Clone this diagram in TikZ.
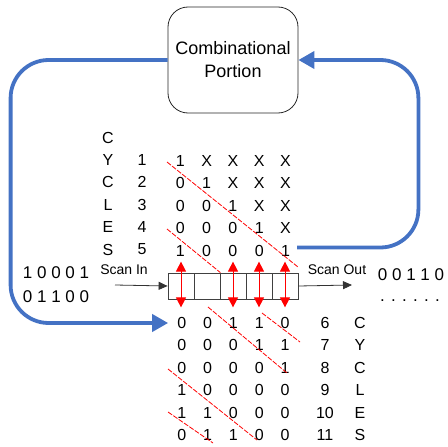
\documentclass[tikz,border=0pt]{standalone}
\usepackage{fontspec}
\setmainfont{Liberation Sans}
\usetikzlibrary{arrows.meta, positioning, calc}

\definecolor{loopblue}{RGB}{68,114,196}

\tikzset{
  bit/.style={inner sep=0pt, font=\fontsize{16}{16}\selectfont},
  stream/.style={inner sep=0pt, font=\fontsize{17}{17}\selectfont},
  cell/.style={draw=black!75, line width=0.8pt, minimum width=26pt, minimum height=26pt, inner sep=0pt},
  flip/.style={red, line width=1pt, {Triangle[width=10pt, length=10pt]}-{Triangle[width=10pt, length=10pt]}},
  diag/.style={red, line width=0.8pt, dash pattern=on 5pt off 1.5pt},
  feedback/.style={loopblue, line width=3.8pt, rounded corners=38pt, -{Triangle[width=17pt, length=16pt]}},
  scan/.style={black!80, line width=0.8pt, -{Triangle[width=8pt, length=9pt]}}
}

\begin{document}
\begin{tikzpicture}[x=1pt, y=-1pt, font=\fontsize{14}{14}\selectfont]
  \useasboundingbox (0,0) rectangle (448,447);

  \node[draw=black!85, line width=0.8pt, rounded corners=20pt, minimum width=130pt, minimum height=106pt,
        align=center, font=\fontsize{18}{23}\selectfont] (comb) at (233,60) {Combinational\\Portion};

  % captured values, cycles 1 to 5
  \foreach \l [count=\i from 0] in {C,Y,C,L,E,S}
    \node[bit] (cycA\i) at (108, {137.5+22.4*\i}) {\l};
  \foreach \n in {1,...,5}
    \node[bit] (numA\n) at (142, {137.5+22.4*\n}) {\n};
  \foreach \r/\va/\vb/\vc/\vd/\ve in {1/1/X/X/X/X,
                                     2/0/1/X/X/X,
                                     3/0/0/1/X/X,
                                     4/0/0/0/1/X,
                                     5/1/0/0/0/1
  } {
    \foreach \v [count=\c] in {\va,\vb,\vc,\vd,\ve}
      \node[bit] (up\r\c) at ({154+26.3*\c}, {138.5+22.4*\r}) {\v};
  }

  % scan chain
  \foreach \i in {1,...,5}
    \node[cell] (reg\i) at ({155+26*\i}, 286) {};
  \foreach \i in {1,3,4,5}
    \draw[flip] ([yshift=11pt]reg\i.north) -- ([yshift=-8pt]reg\i.south);

  \coordinate (scanin) at (115,285);
  \coordinate (scanout) at (352,285);
  \draw[scan] (scanin) -- (reg1.west);
  \draw[scan] (reg5.east) -- (scanout);
  \node (inlabel) at (124,270) {Scan In};
  \node (outlabel) at (337,270) {Scan Out};

  \node[stream] (inA) at (56,273) {1 0 0 0 1};
  \node[stream] (inB) at (56,297) {0 1 1 0 0};
  \node[stream] (outA) at (411,275) {0 0 1 1 0};
  \node[stream] (outB) at (410,301) {. . . . . .};

  % captured values, cycles 6 to 11
  \foreach \r/\va/\vb/\vc/\vd/\ve in {1/0/0/1/1/0,
                                     2/0/0/0/1/1,
                                     3/0/0/0/0/1,
                                     4/1/0/0/0/0,
                                     5/1/1/0/0/0,
                                     6/0/1/1/0/0
  } {
    \foreach \v [count=\c] in {\va,\vb,\vc,\vd,\ve}
      \node[bit] (lo\r\c) at ({156+25.8*\c}, {300.6+22.4*\r}) {\v};
  }
  \foreach \n [count=\i] in {6,...,11}
    \node[bit] (numB\n) at (325, {300.6+22.4*\i}) {\n};
  \foreach \l [count=\i] in {C,Y,C,L,E,S}
    \node[bit] (cycB\i) at (360, {300.6+22.4*\i}) {\l};

  \draw[diag] (167,162) -- (298,267);
  \draw[diag] (167,229) -- (reg2.north east);
  \draw[diag] (208,307) -- (287,373);
  \draw[diag] (262,313) -- (300,342);
  \draw[diag] (168,369) -- (257,440);
  \draw[diag] (168,412) -- (213,443);

  \draw[feedback] (comb.west) -- ([xshift=-157pt]comb.west) |- ([xshift=-9pt]lo11.west);
  \draw[feedback] ([xshift=7pt, yshift=3pt]up55.east) -| ([xshift=120pt]comb.east) -- (comb.east);
\end{tikzpicture}
\end{document}
